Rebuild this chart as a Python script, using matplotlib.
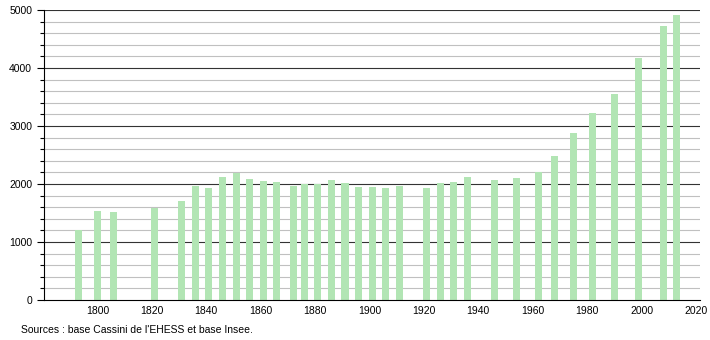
import matplotlib
matplotlib.use("Agg")
import matplotlib.pyplot as plt
from matplotlib.ticker import MultipleLocator

plt.rcParams['font.family'] = ['Liberation Sans', 'DejaVu Sans']

# census years and population
years = [1793, 1800, 1806, 1821, 1831, 1836, 1841, 1846, 1851, 1856, 1861, 1866,
         1872, 1876, 1881, 1886, 1891, 1896, 1901, 1906, 1911, 1921, 1926, 1931,
         1936, 1946, 1954, 1962, 1968, 1975, 1982, 1990, 1999, 2008, 2013]
population = [1207, 1540, 1517, 1585, 1707, 1966, 1931, 2121, 2184, 2086, 2052, 2034,
              1971, 2006, 2000, 2069, 2017, 1954, 1948, 1931, 1966, 1931, 2017, 2034,
              2121, 2075, 2103, 2207, 2489, 2879, 3224, 3552, 4172, 4724, 4914]
x_ticks = [1800, 1820, 1840, 1860, 1880, 1900, 1920, 1940, 1960, 1980, 2000, 2020]
source_text = "Sources : base Cassini de l'EHESS et base Insee."

fig = plt.figure(figsize=(7.1, 3.4), dpi=100)
ax = fig.add_axes([0.062, 0.1176, 0.924, 0.853])

# grid: light every 200, dark every 1000
for v in range(200, 5001, 200):
    if v % 1000 == 0:
        ax.axhline(v, color='#333333', lw=0.8, zorder=1)
    else:
        ax.axhline(v, color='#c0c0c0', lw=0.8, zorder=1)

ax.bar(years, population, width=2.6, color='#b2e5b4', zorder=2)

ax.set_xlim(1780.4, 2021.5)
ax.set_ylim(0, 5000)
ax.set_xticks(x_ticks)
ax.set_yticks(range(0, 5001, 1000))
ax.yaxis.set_minor_locator(MultipleLocator(200))
ax.tick_params(axis='x', length=0, labelsize=7.5, pad=4)
ax.tick_params(axis='y', which='major', length=5, width=0.8, labelsize=7.5)
ax.tick_params(axis='y', which='minor', length=3, width=0.8)

for s in ['top', 'right']:
    ax.spines[s].set_visible(False)
ax.spines['left'].set_linewidth(0.8)
ax.spines['bottom'].set_linewidth(0.8)

fig.text(21 / 710, 1 - 330 / 340, source_text, fontsize=7.5, va='center', ha='left')

fig.savefig('out.png', dpi=100)
